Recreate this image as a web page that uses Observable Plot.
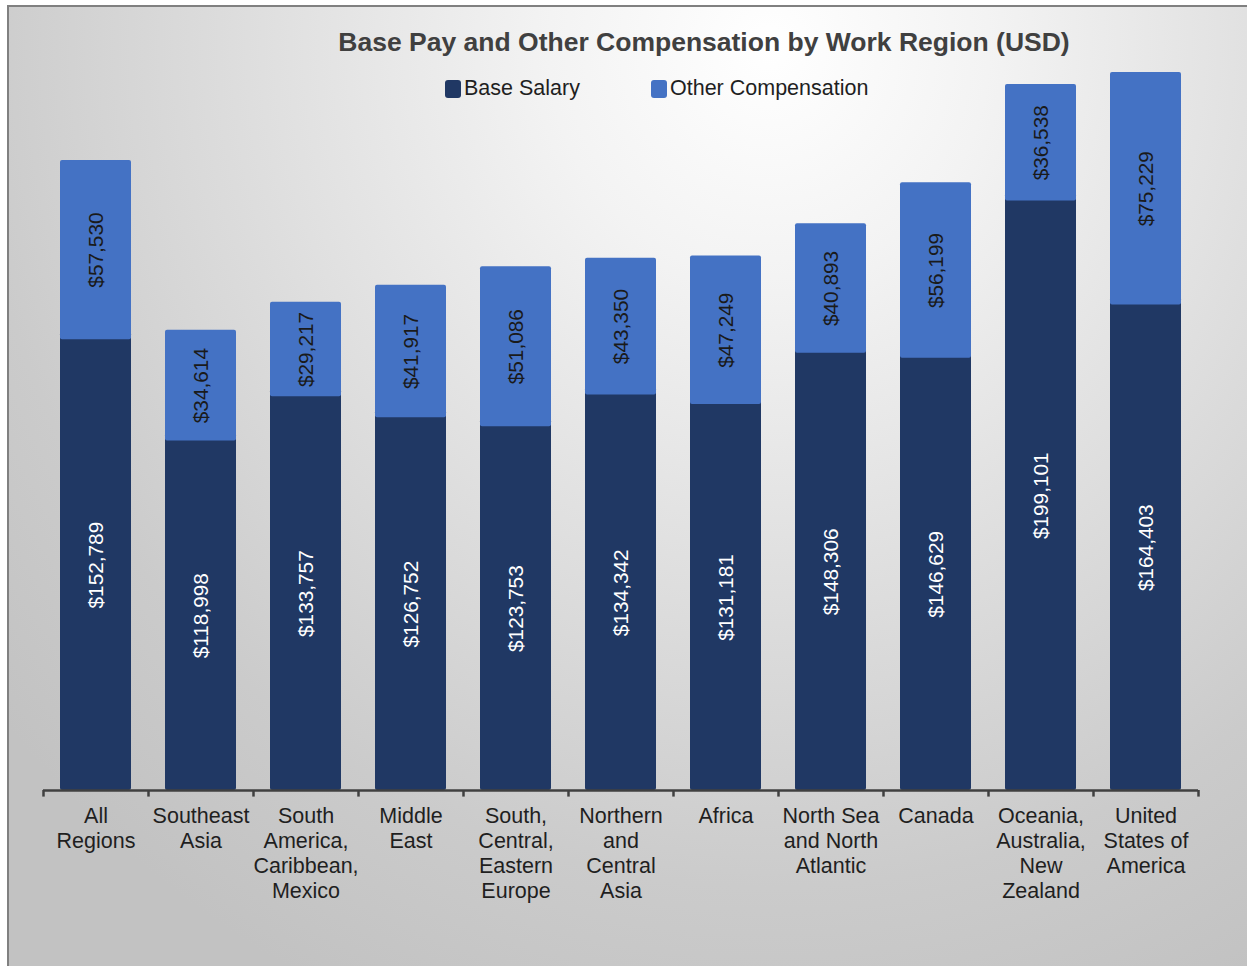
<!DOCTYPE html>
<html>
<head>
<meta charset="utf-8">
<script src="https://cdn.jsdelivr.net/npm/d3@7"></script>
<script src="https://cdn.jsdelivr.net/npm/@observablehq/plot@0.6"></script>
<style>
  html, body { margin: 0; padding: 0; background: #ffffff; }
  #wrap { position: relative; width: 1247px; height: 966px; overflow: hidden; font-family: "Liberation Sans", Arial, sans-serif; }
  #frame { position: absolute; left: 7px; top: 5px; width: 1260px; height: 980px;
    border-left: 2px solid #808080; border-top: 2px solid #808080; box-sizing: border-box;
    background: radial-gradient(ellipse 1000px 1050px at 760px 40px, #ffffff 0%, #f3f3f3 22%, #dcdcdc 55%, #cbcbcb 80%, #c2c2c2 100%); }
  #title { position: absolute; left: 0; width: 1408px; top: 27px; text-align: center; font-weight: bold; font-size: 26.5px; color: #404040; }
  .lg { position: absolute; top: 76px; font-size: 21.5px; color: #1f1f1f; display: flex; align-items: center; }
  .sw { width: 16px; height: 18px; border-radius: 3px; margin-right: 3px; }
  #chart { position: absolute; left: 0; top: 0; }
</style>
</head>
<body>
<div id="wrap">
  <div id="frame"></div>
  <div id="title">Base Pay and Other Compensation by Work Region (USD)</div>
  <div class="lg" style="left:445px"><div class="sw" style="background:#203864"></div>Base Salary</div>
  <div class="lg" style="left:651px"><div class="sw" style="background:#4472C4"></div>Other Compensation</div>
  <div id="chart"></div>
</div>
<script>
const categories = ["All Regions", "Southeast Asia", "South America, Caribbean, Mexico", "Middle East",
  "South, Central, Eastern Europe", "Northern and Central Asia", "Africa", "North Sea and North Atlantic",
  "Canada", "Oceania, Australia, New Zealand", "United States of America"];
const tickLabels = ["All\nRegions", "Southeast\nAsia", "South\nAmerica,\nCaribbean,\nMexico", "Middle\nEast",
  "South,\nCentral,\nEastern\nEurope", "Northern\nand\nCentral\nAsia", "Africa", "North Sea\nand North\nAtlantic",
  "Canada", "Oceania,\nAustralia,\nNew\nZealand", "United\nStates of\nAmerica"];
const baseSalary = [152789, 118998, 133757, 126752, 123753, 134342, 131181, 148306, 146629, 199101, 164403];
const otherComp = [57530, 34614, 29217, 41917, 51086, 43350, 47249, 40893, 56199, 36538, 75229];
const seriesNames = ["Base Salary", "Other Compensation"];
const seriesColors = ["#203864", "#4472C4"];
const labelColors = ["#ffffff", "#1a1a1a"];

const baseRows = categories.map((c, i) => ({category: c, series: seriesNames[0], lo: 0, hi: baseSalary[i], value: baseSalary[i]}));
const otherRows = categories.map((c, i) => ({category: c, series: seriesNames[1], lo: baseSalary[i], hi: baseSalary[i] + otherComp[i], value: otherComp[i]}));
const allRows = baseRows.concat(otherRows);
const tickData = categories.map((c, i) => ({category: c, label: tickLabels[i]}));
const fmt = d3.format("$,");
const step = (1198 - 43) / categories.length;

const chart = Plot.plot({
  width: 1247,
  height: 966,
  marginLeft: 43,
  marginRight: 49,
  marginTop: 41,
  marginBottom: 176,
  style: {background: "transparent", fontFamily: "'Liberation Sans', Arial, sans-serif"},
  x: {domain: categories, paddingInner: 0.32, paddingOuter: 0.16, axis: null},
  y: {domain: [0, 250000], axis: null},
  color: {domain: seriesNames, range: seriesColors},
  marks: [
    Plot.barY(baseRows, {x: "category", y1: "lo", y2: "hi", fill: "series", rx: 2}),
    Plot.barY(otherRows, {x: "category", y1: "lo", y2: "hi", fill: "series", rx: 2, insetBottom: -7}),
    Plot.text(allRows, {
      x: "category", y: d => (d.lo + d.hi) / 2, dy: 3.5,
      text: d => fmt(d.value),
      rotate: -90,
      fill: d => labelColors[seriesNames.indexOf(d.series)],
      fontSize: 20.8
    }),
    Plot.ruleY([0], {stroke: "#404040", strokeWidth: 2.5}),
    Plot.ruleX(categories, {x: d => d, dx: -step / 2, y1: 0, y2: -2200, stroke: "#404040", strokeWidth: 2.5}),
    Plot.ruleX(categories.slice(-1), {x: d => d, dx: step / 2, y1: 0, y2: -2200, stroke: "#404040", strokeWidth: 2.5}),
    Plot.text(tickData, {
      x: "category", y: 0, text: "label", dy: 15, lineAnchor: "top",
      lineHeight: 1.163, fontSize: 21.5, fill: "#1f1f1f"
    })
  ]
});
document.getElementById("chart").appendChild(chart);
</script>
</body>
</html>
